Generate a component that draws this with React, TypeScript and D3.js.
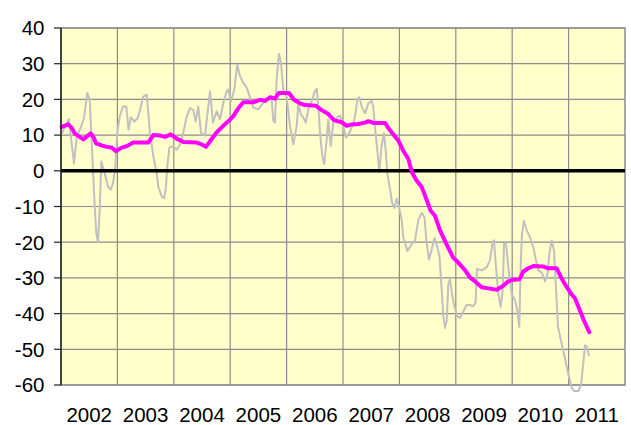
import React from "react";
import * as d3 from "d3";

const yearLabels = ["2002", "2003", "2004", "2005", "2006", "2007", "2008", "2009", "2010", "2011"];
const yTicks = [-60, -50, -40, -30, -20, -10, 0, 10, 20, 30, 40];

// raw series (decimal years since 2002, value)
const rawT = [
  0.00, 0.14, 0.23, 0.28, 0.355, 0.408, 0.466, 0.509, 0.532, 0.567, 0.598, 0.626, 0.656, 0.686, 0.715, 0.775, 0.833, 0.881, 0.922, 0.963,
  0.998, 1.041, 1.099, 1.158, 1.197, 1.241, 1.300, 1.360, 1.401, 1.459, 1.520, 1.548, 1.578, 1.637, 1.697, 1.725, 1.785, 1.826, 1.856, 1.885,
  1.920, 1.963, 2.004, 2.051, 2.110, 2.168, 2.229, 2.287, 2.346, 2.388, 2.434, 2.482, 2.553, 2.642, 2.695, 2.761, 2.819, 2.878, 2.938, 2.966,
  3.014, 3.073, 3.126, 3.174, 3.232, 3.293, 3.351, 3.410, 3.498, 3.587, 3.676, 3.736, 3.764, 3.794, 3.824, 3.865, 3.901, 3.941, 4.002, 4.060,
  4.119, 4.179, 4.207, 4.255, 4.296, 4.339, 4.385, 4.445, 4.491, 4.534, 4.562, 4.592, 4.633, 4.668, 4.711, 4.739, 4.782, 4.828, 4.888, 4.947,
  5.005, 5.053, 5.124, 5.200, 5.261, 5.289, 5.332, 5.390, 5.449, 5.509, 5.537, 5.567, 5.608, 5.644, 5.683, 5.727, 5.757, 5.785, 5.833, 5.874,
  5.910, 5.952, 5.993, 6.041, 6.069, 6.099, 6.140, 6.206, 6.277, 6.335, 6.395, 6.445, 6.481, 6.525, 6.573, 6.622, 6.676, 6.711, 6.750, 6.778,
  6.809, 6.839, 6.867, 6.897, 6.933, 6.968, 7.021, 7.074, 7.133, 7.191, 7.252, 7.310, 7.350, 7.376, 7.459, 7.548, 7.606, 7.654, 7.677, 7.713,
  7.754, 7.796, 7.832, 7.855, 7.890, 7.931, 7.991, 8.050, 8.090, 8.126, 8.151, 8.174, 8.209, 8.257, 8.316, 8.374, 8.422, 8.463, 8.523, 8.582,
  8.626, 8.661, 8.700, 8.741, 8.777, 8.812, 8.878, 8.936, 8.995, 9.055, 9.101, 9.172, 9.220, 9.261, 9.291, 9.332, 9.362,
];
const rawV = [
  10, 14.5, 2, 9.6, 12.4, 14.8, 21.8, 20, 12.4, 0.3, -10, -17.5, -20, -11, 2.6, -0.7, -4.4, -5.3, -3.5, 1.2,
  10.6, 15.2, 18, 18, 11.5, 15, 13.8, 14.8, 17, 20.8, 21.3, 16, 10.6, 4, -0.7, -4.4, -7.2, -7.7, -5.3, 1.2,
  6.4, 6.8, 6.6, 5.9, 7.3, 10.6, 15.2, 17.6, 17, 13.8, 18, 10.7, 9.8, 22.3, 13.5, 16.7, 14.4, 19, 22.3, 22.8,
  19.5, 22.8, 29.8, 26.5, 24.7, 23.3, 20.5, 17.7, 17.2, 19, 20.5, 20, 14, 13.5, 25.6, 32.8, 30.2, 22.8, 20.5, 12.6,
  7.4, 12.6, 18.6, 15.8, 14.9, 13.5, 17.2, 19.5, 21.9, 23, 18.1, 10.7, 4.2, 1.9, 8.8, 14.4, 7, 13.5, 14.9, 15.5,
  12.5, 9.3, 10.9, 14.2, 20.3, 20.6, 17.9, 16.1, 18.9, 19.6, 17.9, 12.3, 5.8, -0.3, 6.8, 10.5, 5.8, -0.5, -5.1, -9.2,
  -10.4, -7.8, -10.1, -13.8, -18.6, -20, -22.5, -20.8, -19.5, -13.8, -11.8, -13, -20, -24.9, -22, -18.8, -21.5, -24, -33.2, -40.5,
  -44, -42, -31.8, -30.4, -34.5, -37.5, -40.7, -41.2, -39.4, -37.6, -37.6, -37.9, -37, -27.5, -27.9, -27, -25.1, -20, -19.5, -27,
  -34.4, -38.1, -33.4, -20.4, -20.4, -27, -34.4, -36.3, -39.1, -43.7, -26, -17.7, -14, -16.7, -18.6, -21.4, -25.1, -27.9, -28.5, -31,
  -28.8, -23, -19.5, -22.3, -33, -43.7, -48.5, -52.5, -57, -60.8, -61.7, -61.7, -60, -53.8, -48.9, -49.5, -51.9,
];

// smoothed series
const avgT = [
  0.012, 0.129, 0.190, 0.248, 0.395, 0.466, 0.527, 0.573, 0.621, 0.722, 0.810, 0.899, 0.975, 1.076, 1.165, 1.282, 1.548, 1.637, 1.755, 1.844,
  1.945, 2.051, 2.168, 2.406, 2.495, 2.571, 2.672, 2.761, 2.878, 2.996, 3.055, 3.144, 3.232, 3.410, 3.528, 3.617, 3.706, 3.794, 3.865, 4.043,
  4.131, 4.238, 4.326, 4.521, 4.622, 4.739, 4.840, 4.977, 5.066, 5.154, 5.271, 5.390, 5.449, 5.537, 5.745, 5.803, 5.892, 5.980, 6.069, 6.158,
  6.223, 6.307, 6.395, 6.484, 6.551, 6.631, 6.720, 6.839, 6.956, 7.044, 7.163, 7.252, 7.358, 7.459, 7.606, 7.725, 7.842, 7.926, 7.996, 8.129,
  8.197, 8.285, 8.374, 8.551, 8.635, 8.789, 8.865, 8.936, 9.055, 9.113, 9.202, 9.279, 9.367,
];
const avgV = [
  12.3, 13, 12, 10.4, 8.8, 9.7, 10.5, 9.5, 7.7, 7.1, 6.7, 6.5, 5.5, 6.5, 6.9, 7.9, 7.9, 10, 9.9, 9.5,
  10.2, 9, 8.1, 7.9, 7.4, 6.7, 8.9, 10.8, 12.6, 14.3, 15.3, 17.5, 19.2, 19.2, 19.9, 19.6, 20.6, 20.2, 21.8, 21.8,
  19.9, 18.9, 18.4, 18.2, 17, 15.9, 14.2, 13.6, 12.6, 13, 13.1, 13.5, 13.9, 13.4, 13.4, 12, 10.2, 8.5, 5.6, 3.3,
  -0.5, -2.8, -4.5, -8.2, -11.1, -12.6, -16.7, -20.7, -24.4, -25.7, -27.8, -29.9, -31.2, -32.6, -33, -33.3, -32.2, -31, -30.6, -30.4,
  -28.2, -27.3, -26.7, -26.8, -27.3, -27.3, -29.8, -31.8, -34.7, -35.7, -39.2, -42.2, -45.2,
];

const W = 631, H = 425;
const L = 61, R = 625, T = 28, B = 385;
const FONT = "Liberation Sans, Arial, sans-serif";

export default function App() {
  const x = d3.scaleLinear().domain([2002, 2012]).range([L, R]);
  const y = d3.scaleLinear().domain([-60, 40]).range([B, T]);
  const raw = rawT.map((t, i) => [2002 + t, rawV[i]] as [number, number]);
  const avg = avgT.map((t, i) => [2002 + t, avgV[i]] as [number, number]);
  const line = d3.line<[number, number]>().x(d => x(d[0])).y(d => y(d[1])).curve(d3.curveLinear);
  const years = d3.range(2003, 2012);
  return (
    <svg width={W} height={H} style={{ position: "absolute", left: 0, top: 0 }}>
      <rect x={0} y={0} width={W} height={H} fill="#ffffff" />
      <rect x={L} y={T} width={R - L} height={B - T} fill="#FFFFCC" />
      {yTicks.map(v => (
        <line key={"h" + v} x1={L} x2={R} y1={y(v)} y2={y(v)} stroke="#8c8c8c" strokeWidth={1.2} />
      ))}
      {years.map(v => (
        <line key={"v" + v} x1={x(v)} x2={x(v)} y1={T} y2={B} stroke="#8c8c8c" strokeWidth={1.2} />
      ))}
      <rect x={L} y={T} width={R - L} height={B - T} fill="none" stroke="#8c8c8c" strokeWidth={1.5} />
      <path d={line(raw) || ""} fill="none" stroke="#c0c0c0" strokeWidth={2} strokeLinejoin="round" />
      <line x1={L} x2={R} y1={y(0)} y2={y(0)} stroke="#000" strokeWidth={3.5} />
      <path d={line(avg) || ""} fill="none" stroke="#FF00FF" strokeWidth={4} strokeLinejoin="round" strokeLinecap="round" />
      <line x1={L} x2={L} y1={T} y2={B} stroke="#222" strokeWidth={1.5} />
      {yTicks.map(v => (
        <g key={"t" + v}>
          <line x1={L - 7} x2={L} y1={y(v)} y2={y(v)} stroke="#222" strokeWidth={1.2} />
          <text x={44.5} y={y(v)} dy="0.36em" textAnchor="end" fontFamily={FONT} fontSize={20.5} fill="#000">{v}</text>
        </g>
      ))}
      {yearLabels.map((s, i) => (
        <text key={s} x={x(2002.5 + i)} y={422} textAnchor="middle" fontFamily={FONT} fontSize={20.5} fill="#000">{s}</text>
      ))}
    </svg>
  );
}
